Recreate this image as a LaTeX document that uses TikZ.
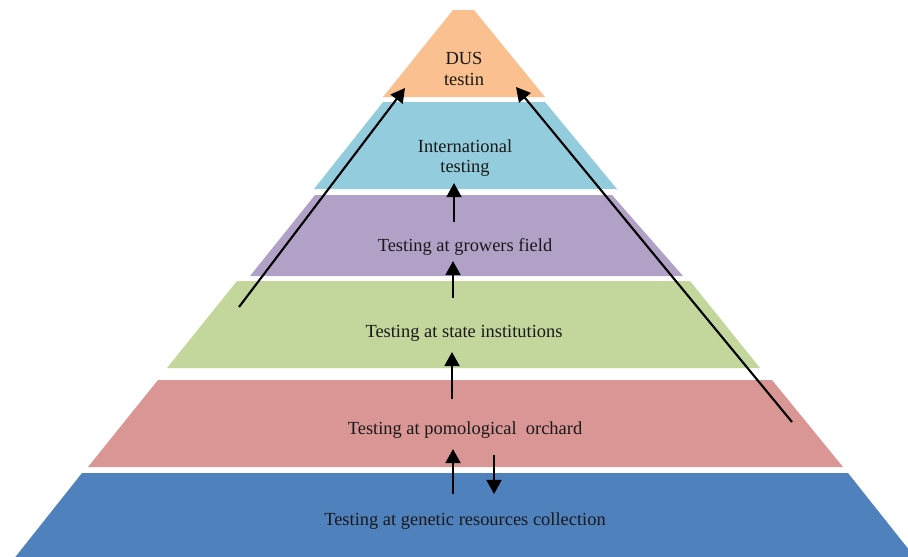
\documentclass[tikz,border=0pt]{standalone}
\usepackage{fontspec}
\setmainfont{Liberation Serif}
\usepackage{tikz}
\usetikzlibrary{arrows.meta}
\definecolor{DusOrange}{HTML}{FAC090}
\definecolor{IntBlue}{HTML}{93CDDD}
\definecolor{GrowPurple}{HTML}{B2A1C7}
\definecolor{StateGreen}{HTML}{C3D69B}
\definecolor{PomoRed}{HTML}{D99694}
\definecolor{GeneBlue}{HTML}{4F81BD}

\begin{document}
\begin{tikzpicture}[x=0.02cm,y=-0.02cm,>={Triangle[length=8pt,width=8.5pt]},
  lbl/.style={align=center,font=\fontsize{10.5}{11.5}\selectfont,text=black!90,inner sep=1pt},
  arr/.style={->,line width=1.2pt}]
  \clip (0,0) rectangle (908,556);
  % layers: top y / bottom y / top left / top right / bottom left / bottom right / colour
  \foreach \yt/\yb/\tl/\tr/\bl/\br/\c in {10/97/453/474/383/545/DusOrange,
      102/189/383/545/314/617/IntBlue, 195/276/315/612/250/683/GrowPurple,
      281/368/237/690/167/760/StateGreen, 380/467/158/772/88/843/PomoRed,
      473/570/82/848/5/925/GeneBlue}
    \fill[\c] (\tl,\yt) -- (\tr,\yt) -- (\br,\yb) -- (\bl,\yb) -- cycle;
  \node[lbl] (dus) at (464,69) {DUS\\testin};
  \node[lbl] (intl) at (465,158) {International\\testing};
  \node[lbl] (grow) at (465,247) {Testing at growers field};
  \node[lbl] (state) at (464,333) {Testing at state institutions};
  \node[lbl] (pomo) at (465,430) {Testing at pomological\ \ orchard};
  \node[lbl] (gene) at (465,521) {Testing at genetic resources collection};
  % arrow ends
  \coordinate (g1) at (454,222); \coordinate (i1) at (454,183);
  \coordinate (s1) at (453,298); \coordinate (g2) at (453,261);
  \coordinate (p1) at (452,399); \coordinate (s2) at (452,352);
  \coordinate (c1) at (453,494); \coordinate (p2) at (453,449);
  \coordinate (p3) at (494,455); \coordinate (c2) at (494,494);
  \coordinate (lt) at (239,307); \coordinate (dl) at (405,88);
  \coordinate (rt) at (792,422); \coordinate (dr) at (516,87);
  \draw[arr] (g1) -- (i1);
  \draw[arr] (s1) -- (g2);
  \draw[arr] (p1) -- (s2);
  \draw[arr] (c1) -- (p2);
  \draw[arr] (p3) -- (c2);
  \draw[arr] (lt) -- (dl);
  \draw[arr] (rt) -- (dr);
\end{tikzpicture}
\end{document}
